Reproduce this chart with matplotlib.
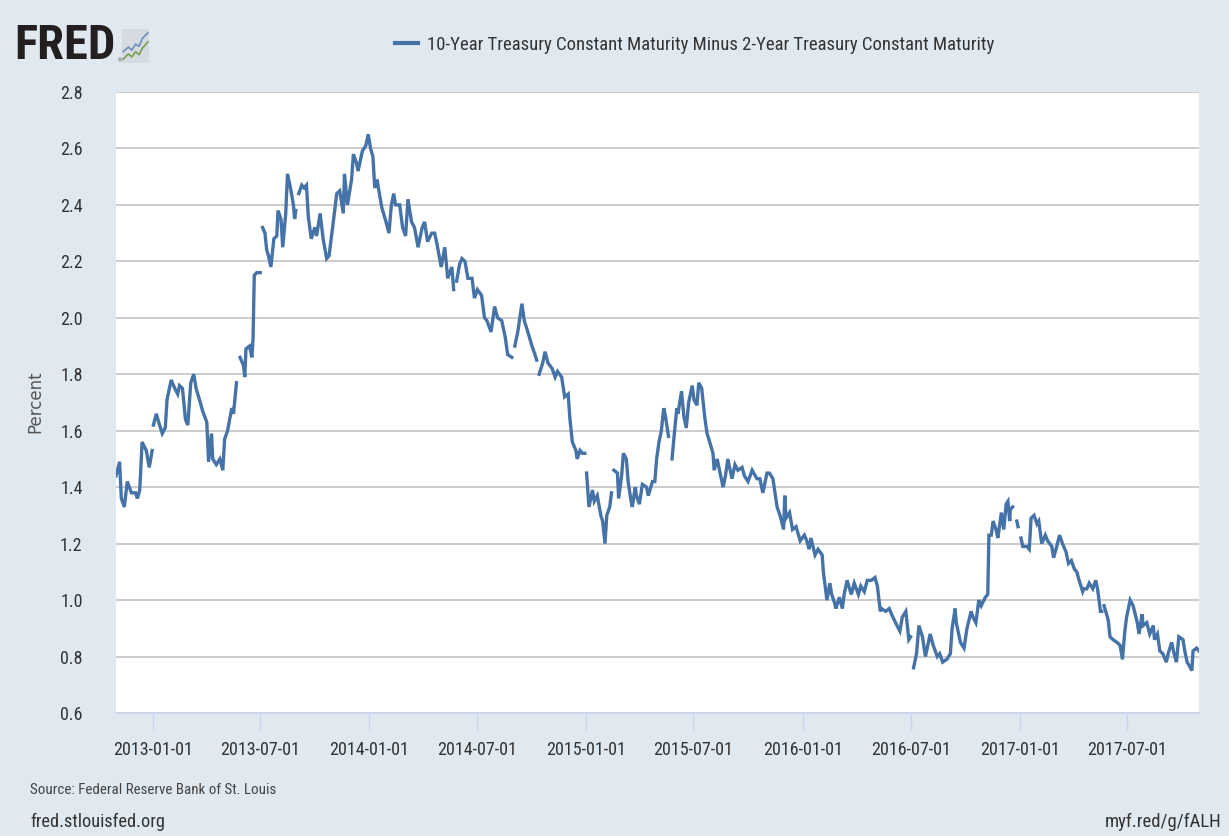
import numpy as np
import pandas as pd
import matplotlib
matplotlib.use("Agg")
import matplotlib.pyplot as plt
import matplotlib.dates as mdates
from matplotlib import font_manager

# 10Y - 2Y treasury spread (None = missing day)
spread = [
    ("2012-10-31", 1.44), ("2012-11-06", 1.49), ("2012-11-09", 1.36), ("2012-11-14", 1.33),
    ("2012-11-19", 1.42), ("2012-11-26", 1.38), ("2012-12-03", 1.38), ("2012-12-06", 1.36),
    ("2012-12-10", 1.39), ("2012-12-14", 1.56), ("2012-12-21", 1.53), ("2012-12-26", 1.47),
    ("2012-12-31", 1.53), ("2013-01-01", None), ("2013-01-02", 1.62), ("2013-01-07", 1.66),
    ("2013-01-11", 1.63), ("2013-01-17", 1.59), ("2013-01-22", 1.61), ("2013-01-25", 1.71),
    ("2013-02-01", 1.78), ("2013-02-07", 1.75), ("2013-02-12", 1.73), ("2013-02-15", 1.76),
    ("2013-02-20", 1.75), ("2013-02-25", 1.64), ("2013-03-01", 1.62), ("2013-03-06", 1.77),
    ("2013-03-11", 1.80), ("2013-03-15", 1.75), ("2013-03-22", 1.70), ("2013-03-26", 1.67),
    ("2013-04-02", 1.63), ("2013-04-05", 1.49), ("2013-04-10", 1.59), ("2013-04-12", 1.50),
    ("2013-04-18", 1.48), ("2013-04-24", 1.50), ("2013-04-29", 1.46), ("2013-05-02", 1.57),
    ("2013-05-07", 1.60), ("2013-05-14", 1.68), ("2013-05-17", 1.66), ("2013-05-22", 1.77),
    ("2013-05-24", None), ("2013-05-28", 1.86), ("2013-06-03", 1.83), ("2013-06-05", 1.79),
    ("2013-06-07", 1.89), ("2013-06-13", 1.90), ("2013-06-17", 1.86), ("2013-06-19", 1.93),
    ("2013-06-21", 2.15), ("2013-06-25", 2.16), ("2013-07-01", 2.16), ("2013-07-03", None),
    ("2013-07-05", 2.32), ("2013-07-09", 2.30), ("2013-07-12", 2.24), ("2013-07-15", 2.22),
    ("2013-07-19", 2.18), ("2013-07-24", 2.28), ("2013-07-29", 2.29), ("2013-07-31", 2.38),
    ("2013-08-05", 2.35), ("2013-08-08", 2.25), ("2013-08-13", 2.37), ("2013-08-16", 2.51),
    ("2013-08-21", 2.46), ("2013-08-26", 2.40), ("2013-08-28", 2.35), ("2013-08-30", 2.38),
    ("2013-09-02", None), ("2013-09-04", 2.44), ("2013-09-09", 2.47), ("2013-09-13", 2.46),
    ("2013-09-17", 2.47), ("2013-09-20", 2.36), ("2013-09-25", 2.28), ("2013-10-01", 2.32),
    ("2013-10-04", 2.29), ("2013-10-10", 2.37), ("2013-10-15", 2.28), ("2013-10-21", 2.21),
    ("2013-10-25", 2.22), ("2013-10-31", 2.32), ("2013-11-07", 2.44), ("2013-11-12", 2.45),
    ("2013-11-18", 2.37), ("2013-11-20", 2.51), ("2013-11-25", 2.40), ("2013-12-02", 2.49),
    ("2013-12-05", 2.58), ("2013-12-10", 2.55), ("2013-12-13", 2.52), ("2013-12-18", 2.57),
    ("2013-12-20", 2.59), ("2013-12-26", 2.61), ("2013-12-30", 2.65), ("2014-01-03", 2.60),
    ("2014-01-07", 2.57), ("2014-01-10", 2.46), ("2014-01-14", 2.49), ("2014-01-17", 2.45),
    ("2014-01-22", 2.39), ("2014-01-29", 2.34), ("2014-02-03", 2.30), ("2014-02-07", 2.40),
    ("2014-02-11", 2.44), ("2014-02-14", 2.40), ("2014-02-21", 2.40), ("2014-02-26", 2.32),
    ("2014-03-03", 2.29), ("2014-03-07", 2.42), ("2014-03-13", 2.34), ("2014-03-18", 2.32),
    ("2014-03-24", 2.25), ("2014-03-31", 2.32), ("2014-04-04", 2.34), ("2014-04-09", 2.27),
    ("2014-04-16", 2.30), ("2014-04-21", 2.30), ("2014-04-25", 2.26), ("2014-05-02", 2.18),
    ("2014-05-08", 2.25), ("2014-05-13", 2.14), ("2014-05-20", 2.18), ("2014-05-23", 2.10),
    ("2014-05-26", None), ("2014-05-28", 2.13), ("2014-06-02", 2.19), ("2014-06-06", 2.21),
    ("2014-06-11", 2.20), ("2014-06-16", 2.14), ("2014-06-23", 2.14), ("2014-06-27", 2.07),
    ("2014-07-02", 2.10), ("2014-07-09", 2.08), ("2014-07-14", 2.00), ("2014-07-18", 1.99),
    ("2014-07-25", 1.95), ("2014-07-31", 2.04), ("2014-08-05", 2.00), ("2014-08-12", 1.99),
    ("2014-08-18", 1.93), ("2014-08-22", 1.87), ("2014-08-29", 1.86), ("2014-09-01", None),
    ("2014-09-03", 1.90), ("2014-09-08", 1.95), ("2014-09-15", 2.05), ("2014-09-19", 1.99),
    ("2014-09-25", 1.95), ("2014-10-02", 1.90), ("2014-10-07", 1.87), ("2014-10-10", 1.85),
    ("2014-10-13", None), ("2014-10-14", 1.80), ("2014-10-20", 1.84), ("2014-10-24", 1.88),
    ("2014-10-29", 1.84), ("2014-11-05", 1.82), ("2014-11-10", 1.79), ("2014-11-14", 1.81),
    ("2014-11-21", 1.79), ("2014-11-26", 1.72), ("2014-12-02", 1.73), ("2014-12-05", 1.64),
    ("2014-12-09", 1.56), ("2014-12-15", 1.53), ("2014-12-17", 1.50), ("2014-12-22", 1.53),
    ("2014-12-26", 1.52), ("2014-12-30", 1.52), ("2015-01-01", None), ("2015-01-02", 1.45),
    ("2015-01-06", 1.33), ("2015-01-12", 1.39), ("2015-01-15", 1.35), ("2015-01-20", 1.37),
    ("2015-01-26", 1.30), ("2015-01-29", 1.28), ("2015-02-02", 1.20), ("2015-02-05", 1.30),
    ("2015-02-10", 1.33), ("2015-02-13", 1.38), ("2015-02-16", None), ("2015-02-17", 1.46),
    ("2015-02-23", 1.45), ("2015-02-25", 1.36), ("2015-03-02", 1.44), ("2015-03-05", 1.52),
    ("2015-03-10", 1.50), ("2015-03-13", 1.42), ("2015-03-18", 1.35), ("2015-03-20", 1.33),
    ("2015-03-25", 1.40), ("2015-03-27", 1.37), ("2015-04-01", 1.34), ("2015-04-06", 1.41),
    ("2015-04-13", 1.40), ("2015-04-16", 1.37), ("2015-04-23", 1.42), ("2015-04-27", 1.42),
    ("2015-04-30", 1.50), ("2015-05-04", 1.56), ("2015-05-08", 1.60), ("2015-05-12", 1.68),
    ("2015-05-15", 1.65), ("2015-05-20", 1.58), ("2015-05-22", None), ("2015-05-26", 1.50),
    ("2015-05-29", 1.57), ("2015-06-03", 1.68), ("2015-06-05", 1.66), ("2015-06-11", 1.74),
    ("2015-06-15", 1.65), ("2015-06-19", 1.61), ("2015-06-23", 1.70), ("2015-06-29", 1.76),
    ("2015-07-02", 1.71), ("2015-07-07", 1.69), ("2015-07-10", 1.77), ("2015-07-15", 1.75),
    ("2015-07-20", 1.65), ("2015-07-24", 1.59), ("2015-07-27", 1.57), ("2015-08-03", 1.52),
    ("2015-08-05", 1.46), ("2015-08-10", 1.50), ("2015-08-14", 1.46), ("2015-08-20", 1.40),
    ("2015-08-24", 1.44), ("2015-08-28", 1.50), ("2015-09-04", 1.43), ("2015-09-09", 1.48),
    ("2015-09-14", 1.46), ("2015-09-21", 1.47), ("2015-09-25", 1.44), ("2015-10-01", 1.42),
    ("2015-10-08", 1.46), ("2015-10-16", 1.43), ("2015-10-21", 1.43), ("2015-10-26", 1.38),
    ("2015-11-02", 1.45), ("2015-11-06", 1.45), ("2015-11-12", 1.43), ("2015-11-19", 1.33),
    ("2015-11-24", 1.30), ("2015-11-30", 1.25), ("2015-12-02", 1.37), ("2015-12-04", 1.29),
    ("2015-12-10", 1.31), ("2015-12-15", 1.25), ("2015-12-21", 1.26), ("2015-12-28", 1.21),
    ("2016-01-04", 1.23), ("2016-01-08", 1.21), ("2016-01-12", 1.18), ("2016-01-15", 1.22),
    ("2016-01-22", 1.16), ("2016-01-27", 1.18), ("2016-02-03", 1.16), ("2016-02-05", 1.10),
    ("2016-02-11", 1.00), ("2016-02-16", 1.06), ("2016-02-19", 1.02), ("2016-02-24", 0.99),
    ("2016-02-26", 0.97), ("2016-03-03", 1.01), ("2016-03-08", 0.97), ("2016-03-11", 1.02),
    ("2016-03-16", 1.07), ("2016-03-23", 1.02), ("2016-03-28", 1.06), ("2016-04-04", 1.02),
    ("2016-04-08", 1.05), ("2016-04-14", 1.03), ("2016-04-19", 1.07), ("2016-04-26", 1.07),
    ("2016-05-02", 1.08), ("2016-05-06", 1.05), ("2016-05-11", 0.96), ("2016-05-13", 0.97),
    ("2016-05-20", 0.96), ("2016-05-26", 0.97), ("2016-06-01", 0.94), ("2016-06-08", 0.91),
    ("2016-06-13", 0.89), ("2016-06-17", 0.94), ("2016-06-23", 0.96), ("2016-06-28", 0.86),
    ("2016-07-01", 0.87), ("2016-07-04", None), ("2016-07-06", 0.76), ("2016-07-11", 0.81),
    ("2016-07-15", 0.91), ("2016-07-21", 0.87), ("2016-07-26", 0.80), ("2016-08-03", 0.88),
    ("2016-08-08", 0.84), ("2016-08-15", 0.80), ("2016-08-19", 0.81), ("2016-08-24", 0.78),
    ("2016-08-31", 0.79), ("2016-09-06", 0.81), ("2016-09-09", 0.90), ("2016-09-14", 0.97),
    ("2016-09-16", 0.92), ("2016-09-23", 0.85), ("2016-09-29", 0.83), ("2016-10-04", 0.90),
    ("2016-10-11", 0.96), ("2016-10-14", 0.94), ("2016-10-19", 0.92), ("2016-10-24", 1.00),
    ("2016-10-28", 0.98), ("2016-11-04", 1.01), ("2016-11-08", 1.02), ("2016-11-10", 1.23),
    ("2016-11-14", 1.23), ("2016-11-17", 1.28), ("2016-11-22", 1.25), ("2016-11-25", 1.22),
    ("2016-12-01", 1.31), ("2016-12-05", 1.25), ("2016-12-09", 1.34), ("2016-12-12", 1.35),
    ("2016-12-15", 1.28), ("2016-12-16", 1.32), ("2016-12-20", 1.33), ("2016-12-22", None),
    ("2016-12-27", 1.28), ("2016-12-29", 1.26), ("2017-01-02", None), ("2017-01-03", 1.22),
    ("2017-01-06", 1.19), ("2017-01-13", 1.19), ("2017-01-17", 1.18), ("2017-01-20", 1.29),
    ("2017-01-25", 1.30), ("2017-01-30", 1.27), ("2017-02-02", 1.28), ("2017-02-07", 1.20),
    ("2017-02-13", 1.23), ("2017-02-17", 1.21), ("2017-02-24", 1.19), ("2017-02-27", 1.15),
    ("2017-03-03", 1.18), ("2017-03-09", 1.23), ("2017-03-14", 1.20), ("2017-03-20", 1.17),
    ("2017-03-24", 1.13), ("2017-03-29", 1.14), ("2017-04-03", 1.11), ("2017-04-07", 1.10),
    ("2017-04-11", 1.07), ("2017-04-17", 1.03), ("2017-04-19", 1.04), ("2017-04-24", 1.04),
    ("2017-04-28", 1.06), ("2017-05-04", 1.04), ("2017-05-09", 1.07), ("2017-05-12", 1.04),
    ("2017-05-17", 0.96), ("2017-05-19", 0.96), ("2017-05-22", None), ("2017-05-23", 0.98),
    ("2017-05-30", 0.93), ("2017-06-02", 0.87), ("2017-06-07", 0.86), ("2017-06-14", 0.85),
    ("2017-06-19", 0.84), ("2017-06-23", 0.79), ("2017-06-27", 0.89), ("2017-06-30", 0.94),
    ("2017-07-06", 1.00), ("2017-07-11", 0.98), ("2017-07-18", 0.92), ("2017-07-21", 0.88),
    ("2017-07-26", 0.95), ("2017-07-28", 0.91), ("2017-08-03", 0.92), ("2017-08-08", 0.88),
    ("2017-08-14", 0.91), ("2017-08-16", 0.86), ("2017-08-21", 0.88), ("2017-08-25", 0.82),
    ("2017-08-30", 0.81), ("2017-09-05", 0.78), ("2017-09-08", 0.81), ("2017-09-14", 0.85),
    ("2017-09-18", 0.81), ("2017-09-22", 0.78), ("2017-09-26", 0.87), ("2017-10-03", 0.86),
    ("2017-10-06", 0.82), ("2017-10-10", 0.78), ("2017-10-13", 0.77), ("2017-10-18", 0.75),
    ("2017-10-20", 0.82), ("2017-10-26", 0.83), ("2017-10-30", 0.82),
]

y_ticks = [0.6, 0.8, 1.0, 1.2, 1.4, 1.6, 1.8, 2.0, 2.2, 2.4, 2.6, 2.8]
x_ticks = ["2013-01-01", "2013-07-01", "2014-01-01", "2014-07-01", "2015-01-01",
           "2015-07-01", "2016-01-01", "2016-07-01", "2017-01-01", "2017-07-01"]
series_name = "10-Year Treasury Constant Maturity Minus 2-Year Treasury Constant Maturity"

df = pd.DataFrame(spread, columns=["date", "value"])
df["date"] = pd.to_datetime(df["date"])
df["value"] = df["value"].astype(float)

# pick a condensed font if there is one
names = {f.name for f in font_manager.fontManager.ttflist}
narrow = next((n for n in ["Roboto Condensed", "Liberation Sans Narrow", "Open Sans Condensed"]
               if n in names), "Liberation Sans")

bg = "#e1e9f0"
blue = "#4572a7"
W, H = 1229, 836

fig = plt.figure(figsize=(W / 100, H / 100), dpi=100, facecolor=bg)
ax = fig.add_axes([116 / W, 1 - 713 / H, (1199 - 116) / W, (713 - 92) / H])
ax.set_facecolor("white")

ax.plot(df["date"], df["value"], color=blue, lw=2.4, label=series_name, zorder=3,
        solid_joinstyle="miter")

ax.set_ylim(0.6, 2.8)
ax.set_xlim(df["date"].iloc[0], df["date"].iloc[-1])
ax.set_yticks(y_ticks)
ax.set_yticklabels([f"{v:.1f}" for v in y_ticks])
ax.set_xticks(pd.to_datetime(x_ticks))
ax.xaxis.set_major_formatter(mdates.DateFormatter("%Y-%m-%d"))

ax.grid(axis="y", color="#c8c8c8", lw=1.3)
for s in ["top", "left", "right"]:
    ax.spines[s].set_visible(False)
ax.spines["bottom"].set_color("#ccd6eb")
ax.spines["bottom"].set_linewidth(1.3)

ax.tick_params(axis="x", length=12, width=1, color="#ccd6eb", pad=8,
               labelsize=13, labelcolor="#333333")
ax.tick_params(axis="y", length=0, pad=24, labelsize=13, labelcolor="#333333")
for lab in ax.get_xticklabels() + ax.get_yticklabels():
    lab.set_family(narrow)

fig.text(35 / W, 1 - 402 / H, "Percent", rotation=90, ha="center", va="center",
         fontsize=12, color="#555555", family="DejaVu Sans")

# legend at the top
leg = ax.legend(loc="center", bbox_to_anchor=(695 / W, 1 - 45 / H),
                bbox_transform=fig.transFigure, frameon=False, handlelength=1.2,
                handletextpad=0.5, prop={"family": narrow, "size": 13.5})
leg.get_lines()[0].set_linewidth(3)
for t in leg.get_texts():
    t.set_color("#333333")

# FRED logo
fig.text(14 / W, 1 - 46 / H, "FRED", fontsize=35, weight="bold", family=narrow,
         color="#231f20", va="center", ha="left")
fig.text(116 / W, 1 - 61 / H, "®", fontsize=4.5, color="#555555", va="center", ha="left")
icon = fig.add_axes([122 / W, 1 - 63 / H, 27 / W, 34 / H])
icon.set_facecolor("#d5dbe0")
icon.plot([0, 1.5, 2.5, 3.5, 4.5, 5.5, 7], [3.0, 4.2, 3.4, 5.0, 4.4, 6.6, 8.0], color="#6f8fb8", lw=1.2)
icon.plot([0, 1.5, 2.5, 3.5, 4.5, 5.5, 7], [1.0, 2.4, 1.6, 3.0, 2.2, 4.0, 5.6], color="#7aa04f", lw=1.2)
icon.set_xlim(-0.3, 7.3)
icon.set_ylim(0, 9)
icon.set_xticks([])
icon.set_yticks([])
for s in icon.spines.values():
    s.set_visible(False)

# footer
fig.text(30 / W, 1 - 790 / H, "Source: Federal Reserve Bank of St. Louis", fontsize=10.8,
         family=narrow, color="#444444", va="center")
fig.text(30 / W, 1 - 822 / H, "fred.stlouisfed.org", fontsize=13.2,
         family=narrow, color="#333333", va="center")
fig.text(1221 / W, 1 - 822 / H, "myf.red/g/fALH", fontsize=13.5,
         family=narrow, color="#333333", va="center", ha="right")

fig.savefig("out.png", dpi=100, facecolor=bg)
